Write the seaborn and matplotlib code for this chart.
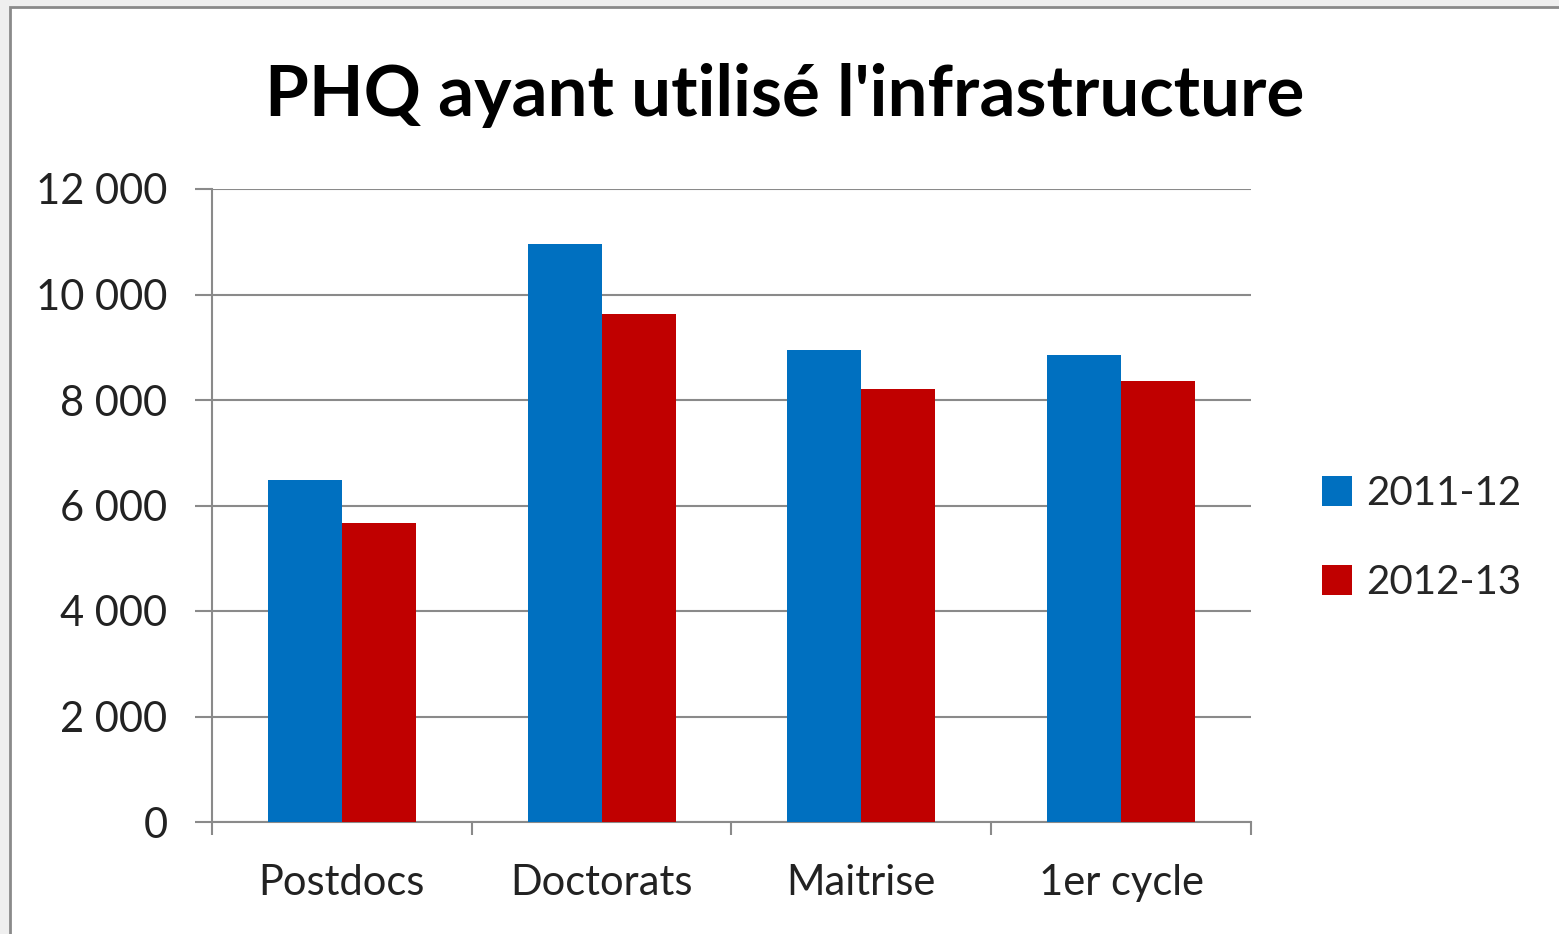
import numpy as np
import pandas as pd
import seaborn as sns
from matplotlib import pyplot as plt
from matplotlib.patches import Rectangle
from matplotlib.ticker import FuncFormatter

# data
categories = ['Postdocs', 'Doctorats', 'Maitrise', '1er cycle']
years = ['2011-12', '2012-13']
vals_2011 = [6480, 10960, 8950, 8860]
vals_2012 = [5670, 9630, 8210, 8360]

df = pd.DataFrame({
    'cat': categories * 2,
    'year': [years[0]] * 4 + [years[1]] * 4,
    'val': vals_2011 + vals_2012,
})

sns.set_style('white')
plt.rcParams['font.family'] = ['Lato', 'DejaVu Sans']

fig = plt.figure(figsize=(15.59, 9.34), dpi=100, facecolor='#efefef')
# chart frame like the spreadsheet export
fig.patches.append(Rectangle((10 / 1559, -0.05), 1.1, 1.05 - 7 / 934, transform=fig.transFigure,
                             facecolor='white', edgecolor='#8a8a8a', linewidth=2, zorder=-1))

ax = fig.add_axes([212 / 1559, 1 - 822 / 934, (1251 - 212) / 1559, (822 - 189) / 934])
ax.set_zorder(2)
ax.set_facecolor('none')
sns.barplot(data=df, x='cat', y='val', hue='year', palette=['#0070C0', '#C00000'],
            width=0.57, saturation=1, linewidth=0, ax=ax, zorder=3)

ax.set_ylim(0, 12000)
ax.set_yticks(np.arange(0, 12001, 2000))
ax.yaxis.set_major_formatter(FuncFormatter(lambda v, p: f'{int(v):,}'.replace(',', ' ')))
ax.set_xlim(-0.5, 3.5)
ax.grid(axis='y', color='#8a8a8a', linewidth=1.5, zorder=0)
ax.set_axisbelow(True)
for s in ['top', 'right']:
    ax.spines[s].set_visible(False)
for s in ['left', 'bottom']:
    ax.spines[s].set_color('#8a8a8a')
    ax.spines[s].set_linewidth(1.5)

ax.set_xticks([-0.5, 0.5, 1.5, 2.5, 3.5], minor=True)
ax.tick_params(axis='x', which='minor', bottom=True, length=9, width=1.5, color='#8a8a8a', direction='out')
ax.tick_params(axis='x', which='major', length=0, labelsize=30, pad=30, labelcolor='#222222')
ax.tick_params(axis='y', left=True, length=12, width=1.5, color='#8a8a8a', labelsize=30, pad=20,
               labelcolor='#222222')
ax.set_xlabel('')
ax.set_ylabel('')

ax.legend(loc='center left', bbox_to_anchor=(1286 / 1559, 1 - 538 / 934), bbox_transform=fig.transFigure,
          frameon=False, fontsize=29, handlelength=0.75, handleheight=0.75, handletextpad=0.35,
          labelspacing=1.3)

fig.text(785 / 1559, 1 - 95 / 934, "PHQ ayant utilisé l'infrastructure", ha='center', va='center',
         fontsize=51, fontweight='bold', color='black')

plt.savefig('out.png', dpi=100, facecolor=fig.get_facecolor())
